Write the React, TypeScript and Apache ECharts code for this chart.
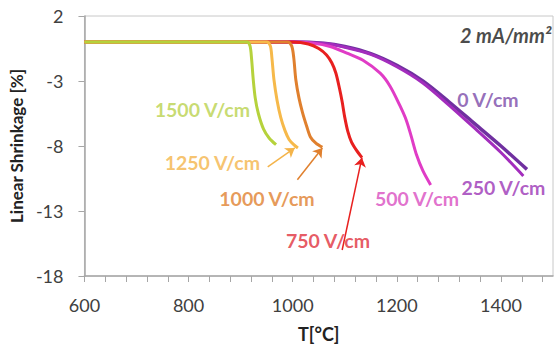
import React, { useEffect, useRef } from "react";
import * as echarts from "echarts";

// Temperature [°C], Linear shrinkage [%]
const curve0: [number, number][] = [[600, 0], [800, 0], [1000, 0], [1060, -0.1], [1100, -0.35], [1150, -0.9], [1200, -1.8], [1250, -3.0], [1300, -4.6], [1350, -6.3], [1400, -8.0], [1450, -9.8]];
const curve250: [number, number][] = [[600, 0], [800, 0], [1000, 0], [1060, -0.12], [1100, -0.4], [1150, -0.95], [1200, -1.9], [1250, -3.15], [1300, -4.85], [1350, -6.65], [1400, -8.5], [1443, -10.3]];
const curve500: [number, number][] = [[600, 0], [800, 0], [1000, 0], [1040, -0.1], [1072, -0.35], [1104, -0.85], [1135, -1.4], [1168, -2.4], [1187, -3.4], [1206, -4.9], [1218, -6.0], [1228, -7.3], [1238, -8.7], [1250, -9.9], [1265, -11.0]];
const curve750: [number, number][] = [[600, 0], [800, 0], [1000, 0], [1030, -0.15], [1050, -0.5], [1065, -1.0], [1075, -1.6], [1083, -2.4], [1090, -3.6], [1095, -4.6], [1100, -5.8], [1106, -6.9], [1113, -7.7], [1122, -8.3], [1133, -8.9]];
const curve1000: [number, number][] = [[600, 0], [800, 0], [990, 0], [998, -0.3], [1002, -1.2], [1006, -2.9], [1012, -4.3], [1019, -5.45], [1027, -6.5], [1034, -7.3], [1045, -7.8], [1057, -8.1]];
const curve1250: [number, number][] = [[600, 0], [800, 0], [950, 0], [957, -0.3], [960, -1.2], [964, -2.9], [970, -4.5], [977, -5.8], [985, -6.8], [993, -7.5], [1002, -7.9], [1010, -8.15]];
const curve1500: [number, number][] = [[600, 0], [800, 0], [912, 0], [918, -0.3], [921, -1.3], [924, -2.8], [928, -4.3], [934, -5.5], [944, -6.7], [955, -7.4], [968, -7.9]];

const seriesNames = ["0 V/cm", "250 V/cm", "500 V/cm", "750 V/cm", "1000 V/cm", "1250 V/cm", "1500 V/cm"];
const seriesCurves = [curve0, curve250, curve500, curve750, curve1000, curve1250, curve1500];
const lineColors = ["#7030a0", "#a32dbd", "#e03cc6", "#e8201f", "#e0802e", "#f6b94a", "#b6d23c"];
const labelColors = ["#7a4aa8", "#9b34b5", "#d94cc0", "#e0303c", "#e0802e", "#f4b44a", "#b9d24d"];
// label anchor (left edge, vertical middle) in data coords
const labelPositions: [number, number][] = [[1316, -4.45], [1324, -11.2], [1158, -12.0], [987, -15.3], [859, -12.0], [754, -9.3], [735, -5.2]];

// arrows: [from, to] for 1250, 1000, 750
const arrows: { from: [number, number]; to: [number, number]; color: string }[] = [
  { from: [952, -9.6], to: [1004, -8.15], color: "#f4b44a" },
  { from: [1009, -10.6], to: [1057, -8.15], color: "#e0802e" },
  { from: [1095, -16.0], to: [1133, -8.9], color: "#e8201f" },
];

const xTickLabels = [600, 800, 1000, 1200, 1400];
const yTicks = [2, -3, -8, -13, -18];

export default function App() {
  const ref = useRef<HTMLDivElement>(null);
  useEffect(() => {
    if (!ref.current) return;
    const chart = echarts.init(ref.current, undefined, { renderer: "svg" });
    const font = "Lato, 'Open Sans', sans-serif";
    const lineSeries: any[] = seriesCurves.map((c, i) => ({
      type: "line",
      name: seriesNames[i],
      data: c,
      smooth: 0.3,
      showSymbol: false,
      symbol: "none",
      lineStyle: { color: lineColors[i], width: i === 0 ? 3.5 : 3 },
      z: 2 + i,
    }));
    const labelSeries = {
      type: "scatter",
      symbolSize: 0,
      silent: true,
      z: 20,
      data: labelPositions.map((p, i) => ({
        value: p,
        name: seriesNames[i],
        label: {
          show: true,
          position: "right",
          distance: 0,
          formatter: seriesNames[i],
          color: labelColors[i],
          fontFamily: font,
          fontWeight: "bold",
          fontSize: 19.5,
        },
      })),
    };
    const titleSeries = {
      type: "scatter",
      symbolSize: 0,
      silent: true,
      z: 20,
      data: [
        {
          value: [1497, 0.55],
          label: {
            show: true,
            position: "left",
            distance: 0,
            formatter: "2 mA/mm²",
            color: "#1a1a1a",
            fontFamily: font,
            fontWeight: "bold",
            fontStyle: "italic",
            fontSize: 20,
          },
        },
      ],
    };
    const arrowSeries = {
      type: "line",
      data: [],
      silent: true,
      z: 15,
      markLine: {
        silent: true,
        animation: false,
        symbol: ["none", "arrow"],
        symbolSize: 9,
        label: { show: false },
        data: arrows.map((a) => [
          { coord: a.from, lineStyle: { color: a.color, width: 1.5, type: "solid" } },
          { coord: a.to },
        ]),
      },
    };
    chart.setOption({
      animation: false,
      grid: {
        left: 82,
        right: 2,
        top: 16,
        bottom: 78,
        show: true,
        borderColor: "#c8c8c8",
        borderWidth: 1,
        backgroundColor: "#ffffff",
      },
      xAxis: {
        type: "value",
        min: 600,
        max: 1500,
        interval: 40,
        name: "T[°C]",
        nameLocation: "middle",
        nameGap: 49,
        nameTextStyle: { fontFamily: font, fontWeight: "bold", fontSize: 18, color: "#222" },
        axisLine: { show: true, onZero: false, lineStyle: { color: "#a6a6a6", width: 1.5 } },
        axisTick: { show: true, length: 6, lineStyle: { color: "#a6a6a6" } },
        splitLine: { show: false },
        axisLabel: {
          showMaxLabel: false,
          margin: 20,
          fontFamily: font,
          fontSize: 18,
          color: "#404040",
          formatter: (v: number) => (xTickLabels.includes(v) ? String(v) : ""),
        },
      },
      yAxis: {
        type: "value",
        min: -18,
        max: 2,
        interval: 5,
        name: "Linear Shrinkage [%]",
        nameLocation: "middle",
        nameGap: 50,
        nameRotate: 90,
        nameTextStyle: { fontFamily: font, fontWeight: "bold", fontSize: 17, color: "#222" },
        axisLine: { show: true, onZero: false, lineStyle: { color: "#a6a6a6", width: 1.5 } },
        axisTick: { show: true, length: 6, lineStyle: { color: "#a6a6a6" } },
        splitLine: { show: false },
        axisLabel: {
          margin: 21,
          fontFamily: font,
          fontSize: 18,
          color: "#404040",
          formatter: (v: number) => (yTicks.includes(v) ? String(v) : ""),
        },
      },
      series: [...lineSeries, arrowSeries, labelSeries, titleSeries],
    });
    return () => chart.dispose();
  }, []);
  return <div ref={ref} style={{ width: 555, height: 354, position: "absolute", left: 0, top: 0 }} />;
}
